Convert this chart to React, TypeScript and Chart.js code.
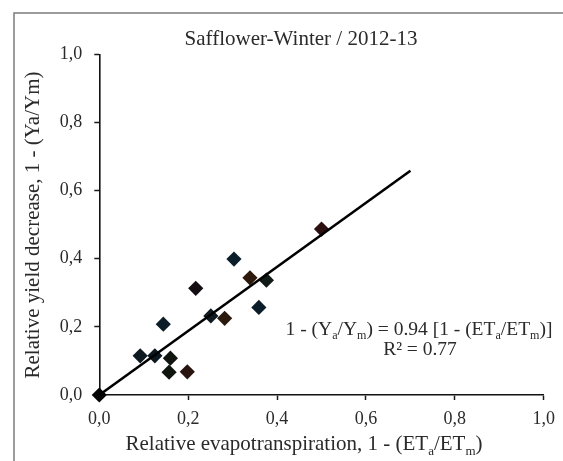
import React, { useEffect, useRef } from "react";
import { Chart, registerables } from "chart.js";

Chart.register(...registerables);

// ---- data ----
const obsX = [0.0, 0.092, 0.125, 0.144, 0.160, 0.157, 0.198, 0.217, 0.251, 0.282, 0.303, 0.339, 0.376, 0.359, 0.500];
const obsY = [0.0, 0.115, 0.115, 0.208, 0.108, 0.067, 0.068, 0.313, 0.232, 0.225, 0.399, 0.344, 0.337, 0.257, 0.487];
const obsColors = ["#050505", "#0d1a22", "#0b1820", "#0c1d27", "#10160f", "#0e140e", "#2a1410", "#140e12", "#101820", "#2a1a0e", "#0a1e2a", "#2e1a0c", "#101a16", "#0a1d28", "#2c1010"];
const fitX = [0.0, 0.7];
const fitY = [0.0, 0.658];
const tickValues = [0, 0.2, 0.4, 0.6, 0.8, 1.0];

const titleText = "Safflower-Winter / 2012-13";
const yTitleText = "Relative yield decrease, 1 - (Ya/Ym)";
const xTitleParts = [
  { t: "Relative evapotranspiration, 1 - (ET" },
  { t: "a", sub: true },
  { t: "/ET" },
  { t: "m", sub: true },
  { t: ")" },
];
const eqParts = [
  { t: "1 - (Y" },
  { t: "a", sub: true },
  { t: "/Y" },
  { t: "m", sub: true },
  { t: ") = 0.94 [1 - (ET" },
  { t: "a", sub: true },
  { t: "/ET" },
  { t: "m", sub: true },
  { t: ")]" },
];
const r2Text = "R² = 0.77";

const FONT = "'Liberation Serif', 'Times New Roman', serif";
const TEXT = "#2a2a2a";

type Part = { t: string; sub?: boolean };

function drawRich(ctx: CanvasRenderingContext2D, parts: Part[], cx: number, by: number, size: number) {
  const subSize = size * 0.62;
  const widths = parts.map((p) => {
    ctx.font = `${p.sub ? subSize : size}px ${FONT}`;
    return ctx.measureText(p.t).width;
  });
  const total = widths.reduce((a, b) => a + b, 0);
  let x = cx - total / 2;
  ctx.textAlign = "left";
  ctx.textBaseline = "alphabetic";
  parts.forEach((p, i) => {
    ctx.font = `${p.sub ? subSize : size}px ${FONT}`;
    ctx.fillText(p.t, x, p.sub ? by + size * 0.22 : by);
    x += widths[i];
  });
}

const decorPlugin = {
  id: "decor",
  beforeDraw(chart: any) {
    const ctx: CanvasRenderingContext2D = chart.ctx;
    ctx.save();
    ctx.fillStyle = "#ffffff";
    ctx.fillRect(0, 0, chart.width, chart.height);
    ctx.strokeStyle = "#7c7c7c";
    ctx.lineWidth = 1.5;
    ctx.strokeRect(14, 13, 700, 600);
    ctx.restore();
  },
  afterDraw(chart: any) {
    const ctx: CanvasRenderingContext2D = chart.ctx;
    ctx.save();
    ctx.fillStyle = TEXT;
    // main title
    ctx.font = `21px ${FONT}`;
    ctx.textAlign = "center";
    ctx.textBaseline = "alphabetic";
    ctx.fillText(titleText, 301, 45);
    // x title
    drawRich(ctx, xTitleParts, 304, 450, 21);
    // y title
    ctx.save();
    ctx.translate(38.5, 225);
    ctx.rotate(-Math.PI / 2);
    ctx.font = `21px ${FONT}`;
    ctx.textAlign = "center";
    ctx.textBaseline = "alphabetic";
    ctx.fillText(yTitleText, 0, 0);
    ctx.restore();
    // equation
    drawRich(ctx, eqParts, 419, 335, 19.5);
    ctx.font = `19.5px ${FONT}`;
    ctx.textAlign = "center";
    ctx.fillText(r2Text, 420, 355);
    ctx.restore();
  },
};

const fmt = (v: any) => Number(v).toFixed(1).replace(".", ",");

export default function App() {
  const ref = useRef<HTMLCanvasElement | null>(null);

  useEffect(() => {
    document.body.style.margin = "0";
    const canvas = ref.current;
    if (!canvas) return;
    const axisCommon = (fit: (s: any) => void) => ({
      type: "linear" as const,
      min: 0,
      max: 1,
      afterFit: fit,
      afterBuildTicks: (s: any) => {
        s.ticks = tickValues.map((v) => ({ value: v }));
      },
      grid: {
        display: true,
        drawOnChartArea: false,
        drawTicks: true,
        tickLength: 5,
        tickWidth: 1.5,
        color: "#1a1a1a",
      },
      border: { display: true, color: "#111111", width: 1.6 },
      title: { display: false },
    });
    const chart = new Chart(canvas, {
      type: "scatter",
      data: {
        datasets: [
          {
            type: "line" as any,
            label: "fit",
            data: fitX.map((x, i) => ({ x, y: fitY[i] })),
            borderColor: "#000000",
            borderWidth: 2.6,
            pointRadius: 0,
            fill: false,
            tension: 0,
            clip: false as any,
          },
          {
            label: "obs",
            data: obsX.map((x, i) => ({ x, y: obsY[i] })),
            pointStyle: "rectRot",
            pointRadius: 7.6,
            pointBackgroundColor: obsColors,
            pointBorderColor: obsColors,
            pointBorderWidth: 0,
            clip: false as any,
          },
        ],
      },
      options: {
        responsive: false,
        animation: false,
        layout: { padding: { left: 0, top: 54.3, right: 18, bottom: 0 } },
        plugins: {
          legend: { display: false },
          tooltip: { enabled: false },
          title: { display: false },
        },
        scales: {
          x: {
            ...axisCommon((s: any) => {
              s.height = 66;
            }),
            position: "bottom",
            ticks: {
              callback: fmt,
              padding: 8,
              color: TEXT,
              font: { family: FONT, size: 18 },
              maxRotation: 0,
            },
          },
          y: {
            ...axisCommon((s: any) => {
              s.width = 99.3;
            }),
            position: "left",
            ticks: {
              callback: fmt,
              padding: 12,
              color: TEXT,
              font: { family: FONT, size: 18 },
            },
          },
        },
      },
      plugins: [decorPlugin],
    } as any);
    return () => chart.destroy();
  }, []);

  return (
    <canvas
      ref={ref}
      width={563}
      height={461}
      style={{ display: "block", width: "563px", height: "461px" }}
    />
  );
}
